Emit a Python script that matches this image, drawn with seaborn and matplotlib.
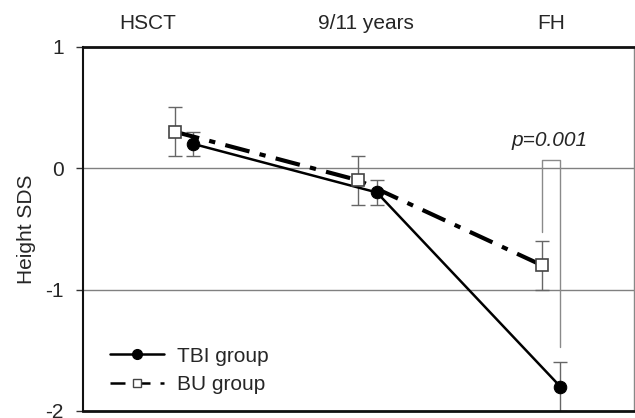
import matplotlib.pyplot as plt
import numpy as np
import pandas as pd
import seaborn as sns
from matplotlib.lines import Line2D

# data
timepoints = ["HSCT", "9/11 years", "FH"]
tbi_mean = [0.2, -0.2, -1.8]
tbi_lo = [0.1, -0.3, -2.0]
tbi_hi = [0.3, -0.1, -1.6]
bu_mean = [0.3, -0.1, -0.8]
bu_lo = [0.1, -0.3, -1.0]
bu_hi = [0.5, 0.1, -0.6]
label_pos = [-0.2, 0.99, 2.0]   # where the top labels sit
p_text = "p=0.001"

sns.set_style("white")
plt.rcParams['font.family'] = ['Liberation Sans', 'DejaVu Sans']
FS = 15

x = np.arange(len(timepoints))
off = 0.05
df = pd.concat([
    pd.DataFrame({"x": x + off, "sds": tbi_mean, "group": "TBI group"}),
    pd.DataFrame({"x": x - off, "sds": bu_mean, "group": "BU group"}),
])

fig, ax = plt.subplots(figsize=(6.35, 4.18), dpi=100)
fig.subplots_adjust(left=0.131, right=0.998, top=0.888, bottom=0.017)

# error bars (thin grey)
ax.errorbar(x + off, tbi_mean,
            yerr=[np.subtract(tbi_mean, tbi_lo), np.subtract(tbi_hi, tbi_mean)],
            fmt="none", ecolor="#666666", elinewidth=1, capsize=5, capthick=1, zorder=2)
ax.errorbar(x - off, bu_mean,
            yerr=[np.subtract(bu_mean, bu_lo), np.subtract(bu_hi, bu_mean)],
            fmt="none", ecolor="#666666", elinewidth=1, capsize=5, capthick=1, zorder=2)

sns.lineplot(data=df[df.group == "TBI group"], x="x", y="sds", ax=ax,
             color="black", lw=1.8, marker="o", markersize=9,
             markerfacecolor="black", markeredgecolor="black", zorder=4)
sns.lineplot(data=df[df.group == "BU group"], x="x", y="sds", ax=ax,
             color="black", lw=3, marker="s", markersize=9,
             markerfacecolor="white", markeredgecolor="#444444",
             markeredgewidth=1.2, zorder=5)
ax.lines[-1].set_dashes([6, 2.5, 1.5, 2.5])

# grid lines at 0 and -1
for yv in [0, -1]:
    ax.axhline(yv, color="#808080", lw=1, zorder=1)

# significance bracket at FH
bx0, bx1, btop = 2 - off, 2 + off, 0.07
ax.plot([bx0, bx0, bx1, bx1], [bu_hi[2] + 0.07, btop, btop, tbi_hi[2] + 0.13],
        color="#8a8a8a", lw=1, zorder=1)
ax.text(1.99, 0.15, p_text, style="italic", fontsize=FS, ha="center", va="bottom")

ax.set_xlim(-0.55, 2.45)
ax.set_ylim(-2, 1)
ax.set_yticks([1, 0, -1, -2])
ax.set_yticklabels(["1", "0", "-1", "-2"], fontsize=FS)
ax.set_ylabel("Height SDS", fontsize=FS, labelpad=7)
ax.set_xlabel("")
ax.set_xticks(label_pos)
ax.set_xticklabels(timepoints, fontsize=FS)
ax.xaxis.tick_top()
ax.tick_params(axis="x", length=0, pad=10)
ax.tick_params(axis="y", length=5, width=1, color="#333333", direction="out", left=True, pad=9)

for side in ["left", "top", "bottom"]:
    ax.spines[side].set_color("#111111")
    ax.spines[side].set_linewidth(2)
ax.spines["left"].set_linewidth(1.5)
ax.spines["right"].set_color("#888888")
ax.spines["right"].set_linewidth(1)

handles = [
    Line2D([], [], color="black", lw=1.8, marker="o", markersize=7),
    Line2D([], [], color="black", lw=1.8, marker="s", markersize=6,
           markerfacecolor="white", markeredgecolor="#444444", dashes=[6, 4]),
]
ax.legend(handles, ["TBI group", "BU group"], loc="lower left", frameon=False,
          fontsize=FS, bbox_to_anchor=(0.015, -0.005), handlelength=2.6,
          labelspacing=0.45, handletextpad=0.6)

fig.savefig("out.png", dpi=100)
